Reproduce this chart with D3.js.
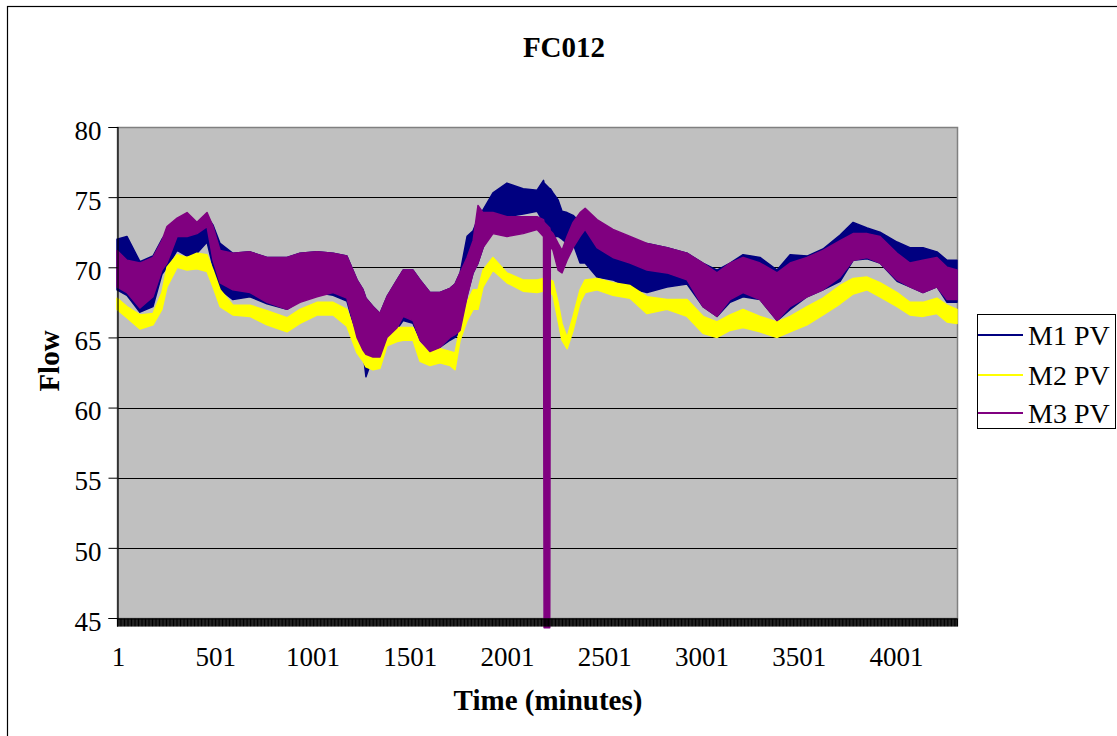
<!DOCTYPE html>
<html>
<head>
<meta charset="utf-8">
<script src="https://cdnjs.cloudflare.com/ajax/libs/d3/7.8.5/d3.min.js"></script>
<style>
  html, body { margin: 0; padding: 0; background: #fff; }
  svg { display: block; }
  text { font-family: "Liberation Serif", "Times New Roman", serif; fill: #000; }
</style>
</head>
<body>
<svg id="chart" width="1117" height="736"></svg>
<script>
// Time axis (minutes) at which the per-interval min/max of each meter was taken
const minutes = [1,52,119,186,232,258,310,361,412,464,
  495,531,597,685,772,875,942,1029,1112,1183,
  1235,1266,1281,1317,1353,1389,1441,1472,1523,1559,
  1610,1662,1713,1739,1765,1801,1832,1857,1883,1934,
  2006,2089,2161,2194,2197,2226,2229,2243,2269,2289,2315,
  2346,2382,2408,2469,2551,2639,2726,2829,2932,3014,
  3086,3153,3220,3307,3395,3462,3549,3631,3719,3786,
  3858,3924,4012,4078,4145,4217,4269,4320];

// M1 PV: high / low of the flow reading in each interval
const m1High = [72.0,72.2,70.4,70.8,72.0,72.5,73.0,73.2,73.0,73.6,
  73.0,71.7,71.0,71.1,70.7,70.7,71.0,71.1,71.0,70.8,
  69.1,68.4,67.8,67.2,66.7,67.9,69.1,69.8,69.8,69.1,
  68.2,68.2,68.5,68.8,69.6,72.2,72.6,73.5,74.1,75.3,
  76.0,75.6,75.5,76.2,76.0,75.6,75.6,75.3,74.8,74.0,73.9,
  73.7,73.2,73.0,71.7,72.2,71.6,71.7,71.4,71.0,70.3,
  69.8,70.3,70.9,70.7,69.8,70.9,70.8,71.3,72.3,73.2,
  72.8,72.5,71.8,71.4,71.4,71.1,70.5,70.5];
const m1Low = [68.4,68.0,66.8,67.2,69.5,70.0,71.2,70.8,71.0,71.8,
  70.0,68.4,67.7,67.9,67.4,67.0,67.6,68.2,68.0,67.6,
  65.0,64.0,62.2,63.6,63.6,65.0,65.6,66.2,66.0,64.8,
  64.0,64.3,64.8,65.0,65.4,68.0,69.6,70.3,71.4,73.2,
  73.6,73.8,74.0,73.2,73.0,72.8,72.6,72.2,72.2,72.0,71.7,
  71.7,70.3,70.3,69.3,69.1,68.5,68.2,68.6,68.8,67.2,
  66.5,67.5,67.9,67.7,66.2,67.0,67.9,68.4,69.0,70.5,
  70.6,70.3,69.0,68.6,68.2,68.6,67.5,67.5];

// M2 PV
const m2High = [67.8,67.2,66.6,66.7,68.2,70.0,70.9,70.7,71.0,70.9,
  69.8,68.4,67.3,67.3,66.9,66.4,67.0,67.5,67.5,67.0,
  65.0,64.5,64.0,63.8,63.9,65.0,65.7,65.7,65.7,64.6,
  64.0,64.2,64.0,63.9,65.7,67.5,68.4,68.4,69.8,70.7,
  69.6,69.1,69.1,69.2,69.3,69.2,69.1,69.0,67.5,66.0,65.0,
  66.5,68.4,69.1,69.2,68.9,68.7,67.9,67.7,67.7,66.5,
  66.1,66.6,67.0,66.5,66.1,66.5,67.2,67.8,68.7,69.2,
  69.3,68.9,68.2,67.5,67.5,67.8,67.3,67.0];
const m2Low = [67.0,66.4,65.6,65.9,67.0,68.6,70.0,69.8,69.9,69.7,
  68.6,67.2,66.6,66.5,65.9,65.4,66.0,66.6,66.6,65.8,
  63.9,63.3,62.9,62.7,62.8,64.4,64.7,64.8,64.8,63.3,
  63.0,63.2,63.0,62.7,64.8,66.2,67.0,67.0,68.6,69.8,
  68.9,68.3,68.2,68.3,68.4,68.4,68.2,68.0,66.2,64.8,64.2,
  65.5,67.5,68.2,68.4,68.0,67.8,66.7,67.0,66.5,65.3,
  65.0,65.5,65.7,65.4,65.0,65.4,65.9,66.6,67.4,68.1,
  68.4,67.9,67.2,66.6,66.5,66.7,66.1,66.0];

// M3 PV (drops out to the bottom of the scale around minute 2200)
const m3High = [71.2,70.5,70.3,70.7,71.9,72.9,73.5,73.9,73.2,73.9,
  72.9,71.2,71.0,71.1,70.7,70.7,71.0,71.1,71.0,70.8,
  69.1,68.4,67.8,67.2,66.7,67.9,69.1,69.8,69.8,69.1,
  68.2,68.2,68.5,68.8,69.6,70.7,71.9,74.4,73.9,73.9,
  73.6,73.6,73.6,73.4,73.2,72.8,72.6,72.4,71.7,71.2,72.2,
  73.2,73.9,74.2,73.4,72.7,72.2,71.7,71.4,71.0,70.3,
  69.6,70.3,70.7,70.3,69.6,70.3,70.7,71.2,71.9,72.4,
  72.4,72.2,71.0,70.3,70.5,70.7,70.0,69.8];
const m3Low = [68.6,68.2,67.1,67.9,69.8,70.3,72.2,72.2,72.4,72.9,
  70.5,68.9,68.4,68.2,67.5,67.0,67.5,67.9,68.2,67.8,
  65.0,64.1,63.8,63.6,63.6,65.0,65.7,66.5,66.2,64.8,
  64.0,64.3,65.0,65.2,65.5,67.9,69.6,70.3,71.4,72.4,
  72.2,72.4,72.7,72.2,44.3,44.3,71.5,71.2,69.8,69.6,70.5,
  71.4,72.2,72.7,71.4,70.7,70.3,69.8,69.6,69.1,67.2,
  66.5,67.7,68.2,67.7,66.2,67.2,67.9,68.4,69.3,70.5,
  70.7,70.3,69.1,68.6,68.2,68.6,67.7,67.7];

const seriesNames = ["M1 PV", "M2 PV", "M3 PV"];
const seriesColors = ["#000080", "#ffff00", "#800080"];
const yTicks = [45, 50, 55, 60, 65, 70, 75, 80];
const xTickLabels = [1, 501, 1001, 1501, 2001, 2501, 3001, 3501, 4001];

const series = [
  { name: seriesNames[0], color: seriesColors[0], high: m1High, low: m1Low },
  { name: seriesNames[1], color: seriesColors[1], high: m2High, low: m2Low },
  { name: seriesNames[2], color: seriesColors[2], high: m3High, low: m3Low }
];

const svg = d3.select("#chart");
const plot = { left: 117, right: 957, top: 127, bottom: 618 };

const x = d3.scaleLinear().domain([1, 4320]).range([plot.left, plot.right]);
const y = d3.scaleLinear().domain([45, 80]).range([plot.bottom, plot.top]);

// outer chart frame
svg.append("rect")
  .attr("x", 7.5).attr("y", 6.5)
  .attr("width", 1300).attr("height", 900)
  .attr("fill", "none").attr("stroke", "#000").attr("stroke-width", 1.2);

// title
svg.append("text")
  .attr("x", 564).attr("y", 57)
  .attr("text-anchor", "middle")
  .attr("font-size", 29).attr("font-weight", "bold")
  .text("FC012");

// plot area background
svg.append("rect")
  .attr("x", plot.left).attr("y", plot.top)
  .attr("width", plot.right - plot.left).attr("height", plot.bottom - plot.top)
  .attr("fill", "#c0c0c0");

// horizontal gridlines
svg.append("g")
  .selectAll("line")
  .data(yTicks.filter(v => v > 45 && v < 80))
  .join("line")
  .attr("x1", plot.left).attr("x2", plot.right)
  .attr("y1", d => Math.round(y(d)) + 0.5).attr("y2", d => Math.round(y(d)) + 0.5)
  .attr("stroke", "#000").attr("stroke-width", 1);

// plot border
svg.append("rect")
  .attr("x", plot.left + 0.5).attr("y", plot.top + 0.5)
  .attr("width", plot.right - plot.left).attr("height", plot.bottom - plot.top)
  .attr("fill", "none").attr("stroke", "#808080").attr("stroke-width", 1.5);

// series: each drawn as the band between interval low and high
const bands = svg.append("g");
series.forEach(s => {
  const pts = minutes.map((t, i) => ({ t, hi: s.high[i], lo: s.low[i] }));
  const area = d3.area()
    .x(d => x(d.t))
    .y0(d => y(d.lo))
    .y1(d => y(d.hi));
  bands.append("path")
    .datum(pts)
    .attr("d", area)
    .attr("fill", s.color)
    .attr("stroke", s.color)
    .attr("stroke-width", 1.5)
    .attr("stroke-linejoin", "round");
});

// y axis
const yAxis = d3.axisLeft(y).tickValues(yTicks).tickSize(9).tickPadding(7);
const gy = svg.append("g")
  .attr("transform", `translate(${plot.left + 0.5},0)`)
  .call(yAxis);
gy.select(".domain").attr("stroke", "#000").attr("stroke-width", 1.2);
gy.selectAll(".tick line").attr("stroke", "#000");
gy.selectAll(".tick text")
  .attr("font-size", 27)
  .attr("font-family", "Liberation Serif, Times New Roman, serif")
  .attr("dy", "0.45em");

// x axis: dense category tick marks
const xAxis = d3.axisBottom(x).tickValues(d3.range(1, 4321, 4)).tickSize(8).tickFormat("");
const gx = svg.append("g")
  .attr("transform", `translate(0,${plot.bottom + 0.5})`)
  .call(xAxis);
gx.select(".domain").attr("stroke", "#000").attr("stroke-width", 1.2);
gx.selectAll(".tick line").attr("stroke", "#000").attr("stroke-width", 1);

// x tick labels
svg.append("g")
  .selectAll("text")
  .data(xTickLabels)
  .join("text")
  .attr("x", d => x(d) + 1.5)
  .attr("y", 666)
  .attr("text-anchor", "middle")
  .attr("font-size", 27)
  .text(d => d);

// axis titles
svg.append("text")
  .attr("x", 548).attr("y", 710)
  .attr("text-anchor", "middle")
  .attr("font-size", 29).attr("font-weight", "bold")
  .text("Time (minutes)");

svg.append("text")
  .attr("transform", "translate(59,361) rotate(-90)")
  .attr("text-anchor", "middle")
  .attr("font-size", 29).attr("font-weight", "bold")
  .text("Flow");

// legend
const legend = svg.append("g");
legend.append("rect")
  .attr("x", 977.5).attr("y", 314.5)
  .attr("width", 138).attr("height", 114)
  .attr("fill", "#fff").attr("stroke", "#000").attr("stroke-width", 1);
const legendY = [335, 375, 413];
series.forEach((s, i) => {
  legend.append("line")
    .attr("x1", 978).attr("x2", 1023)
    .attr("y1", legendY[i]).attr("y2", legendY[i])
    .attr("stroke", s.color).attr("stroke-width", 2);
  legend.append("text")
    .attr("x", 1028).attr("y", legendY[i] + 10)
    .attr("font-size", 28)
    .text(s.name);
});
</script>
</body>
</html>
